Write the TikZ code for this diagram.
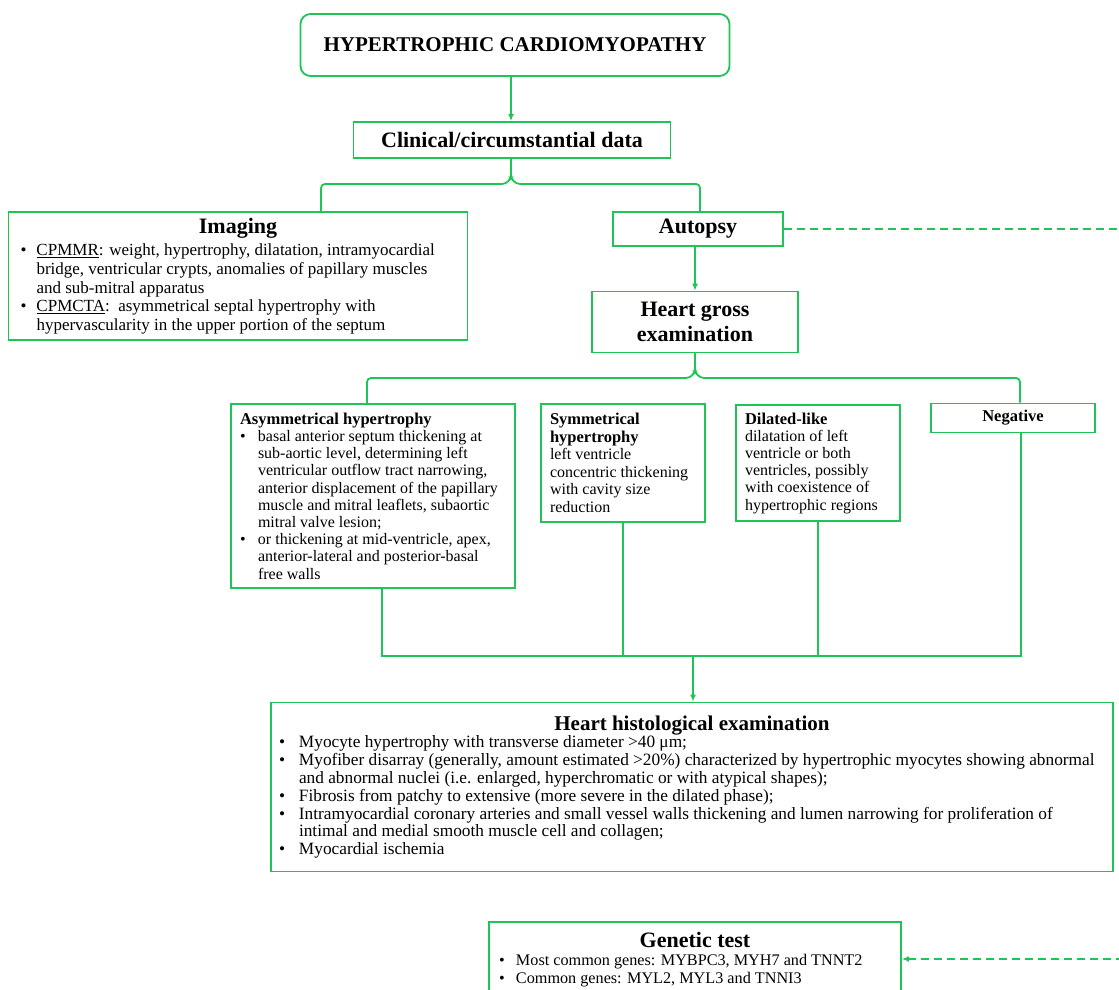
\documentclass[tikz,border=0pt]{standalone}
\usepackage{fontspec}
\setmainfont{Liberation Serif}
\usetikzlibrary{arrows.meta}
\definecolor{hcmgreen}{RGB}{30,196,86}
\newcommand{\bl}{\textbullet}
\newcommand{\bitem}[2][16pt]{\par\hangindent=#1\hangafter=1\noindent\makebox[#1][l]{\bl}#2\par}

\begin{document}
\begin{tikzpicture}[x=1pt,y=-1pt,
    box/.style={draw=hcmgreen,line width=1.8pt,inner sep=0pt},
    link/.style={draw=hcmgreen,line width=1.8pt},
    arr/.style={link,-{Latex[length=7pt,width=6pt]}},
    dlink/.style={link,dash pattern=on 8pt off 5pt}]
  \useasboundingbox (0,0) rectangle (1119,990);
  \clip (0,0) rectangle (1119,990);

  \node[box,rounded corners=10pt,minimum width=429pt,minimum height=62pt,
    font=\fontsize{21}{24}\selectfont\bfseries] (hcm) at (515,45) {HYPERTROPHIC CARDIOMYOPATHY};
  \node[box,minimum width=317pt,minimum height=36pt,
    font=\fontsize{22}{25}\selectfont\bfseries] (clinical) at (512,140) {Clinical/circumstantial data};

  \node[box,minimum width=459pt,minimum height=128pt] (imaging) at (238,276)
    {\begin{minipage}{435pt}\parskip=0pt
      {\centering\fontsize{22}{24}\selectfont\bfseries Imaging\par}\vspace{4pt}
      \fontsize{17}{18.7}\selectfont
      \bitem{\underline{CPMMR}: weight, hypertrophy, dilatation, intramyocardial\\
        bridge, ventricular crypts, anomalies of papillary muscles\\
        and sub-mitral apparatus}
      \bitem{\underline{CPMCTA}:\ \ asymmetrical septal hypertrophy with\\
        hypervascularity in the upper portion of the septum}
    \end{minipage}};

  \node[box,minimum width=170pt,minimum height=34pt,
    font=\fontsize{22}{25}\selectfont\bfseries] (autopsy) at (698,229) {Autopsy};
  \node[box,minimum width=206pt,minimum height=61pt,align=center,
    font=\fontsize{22}{25}\selectfont\bfseries] (gross) at (695,322) {Heart gross\\examination};

  \node[box,minimum width=284pt,minimum height=184pt] (asym) at (373,496)
    {\begin{minipage}{266pt}\parskip=0pt
      {\fontsize{16.5}{17.2}\selectfont\bfseries Asymmetrical hypertrophy\par}
      \fontsize{16}{17.2}\selectfont
      \bitem[18pt]{basal anterior septum thickening at\\
        sub-aortic level, determining left\\
        ventricular outflow tract narrowing,\\
        anterior displacement of the papillary\\
        muscle and mitral leaflets, subaortic\\
        mitral valve lesion;}
      \bitem[18pt]{or thickening at mid-ventricle, apex,\\
        anterior-lateral and posterior-basal\\
        free walls}
    \end{minipage}};
  \node[box,minimum width=164pt,minimum height=118pt] (sym) at (623,463)
    {\begin{minipage}{146pt}\parskip=0pt
      {\fontsize{16.5}{17.5}\selectfont\bfseries Symmetrical\\hypertrophy\par}
      \fontsize{16}{17.5}\selectfont
      left ventricle\\concentric thickening\\with cavity size\\reduction
    \end{minipage}};
  \node[box,minimum width=164pt,minimum height=116pt] (dil) at (818,463)
    {\begin{minipage}{146pt}\parskip=0pt
      {\fontsize{16.5}{17.2}\selectfont\bfseries Dilated-like\par}
      \fontsize{16}{17.2}\selectfont
      dilatation of left\\ventricle or both\\ventricles, possibly\\with coexistence of\\hypertrophic regions
    \end{minipage}};
  \node[box,minimum width=164pt,minimum height=29pt,
    font=\fontsize{16.5}{18}\selectfont\bfseries] (neg) at (1013,418) {Negative};

  \node[box,minimum width=842pt,minimum height=169pt] (histo) at (692,787)
    {\begin{minipage}{826pt}\parskip=0pt
      {\centering\fontsize{21}{24}\selectfont\bfseries Heart histological examination\par}
      \fontsize{17.3}{17.8}\selectfont
      \bitem[20pt]{Myocyte hypertrophy with transverse diameter >40 μm;}
      \bitem[20pt]{Myofiber disarray (generally, amount estimated >20\%) characterized by hypertrophic myocytes showing abnormal\\
        and abnormal nuclei (i.e. enlarged, hyperchromatic or with atypical shapes);}
      \bitem[20pt]{Fibrosis from patchy to extensive (more severe in the dilated phase);}
      \bitem[20pt]{Intramyocardial coronary arteries and small vessel walls thickening and lumen narrowing for proliferation of\\
        intimal and medial smooth muscle cell and collagen;}
      \bitem[20pt]{Myocardial ischemia}
    \end{minipage}};

  \node[box,anchor=north,minimum width=412pt,minimum height=75pt] (genetic) at (695,921)
    {\begin{minipage}{392pt}\parskip=0pt
      {\centering\fontsize{22}{24}\selectfont\bfseries Genetic test\par}
      \fontsize{16.2}{18}\selectfont
      \bitem[17pt]{Most common genes: MYBPC3, MYH7 and TNNT2}
      \bitem[17pt]{Common genes: MYL2, MYL3 and TNNI3}
    \end{minipage}};

  \coordinate (b1L) at (321,184);
  \coordinate (b1M) at (511,184);
  \coordinate (b1R) at (700,184);
  \coordinate (b2L) at (367,378);
  \coordinate (b2M) at (695,378);
  \coordinate (b2R) at (1020,378);
  \coordinate (busL) at (382,656);
  \coordinate (busM) at (693,656);
  \coordinate (busR) at (1021,656);
  \coordinate (dashR) at (1135,959);

  \draw[arr] (hcm.south -| b1M) -- (clinical.north -| b1M);
  \draw[link,rounded corners=4pt] (b1L |- imaging.north) -- (b1L) -- ++(185,0) -- ++(5,-6) -- (clinical.south -| b1M);
  \draw[link,rounded corners=4pt] (b1R |- autopsy.north) -- (b1R) -- ++(-184,0) -- ++(-5,-6) -- (clinical.south -| b1M);
  \draw[arr] (autopsy.south -| b2M) -- (gross.north -| b2M);
  \draw[link,rounded corners=4pt] (b2L |- asym.north) -- (b2L) -- ++(323,0) -- ++(5,-6) -- (gross.south -| b2M);
  \draw[link,rounded corners=4pt] (b2R |- neg.north) -- (b2R) -- ++(-320,0) -- ++(-5,-6) -- (gross.south -| b2M);
  \draw[link] (asym.south -| busL) -- (busL) -- (busR) -- (neg.south -| busR);
  \draw[link] (sym.south) -- (sym.south |- busL);
  \draw[link] (dil.south) -- (dil.south |- busL);
  \draw[arr] (busM) -- (busM |- histo.north);
  \draw[dlink,-{Latex[length=7pt,width=6pt]}] (autopsy.east) -| (dashR) -- (genetic.east |- dashR);
\end{tikzpicture}
\end{document}
